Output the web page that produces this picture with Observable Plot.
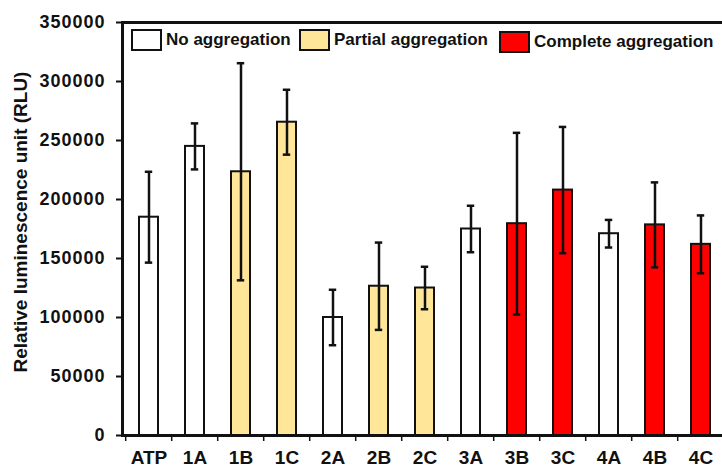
<!DOCTYPE html>
<html>
<head>
<meta charset="utf-8">
<script src="https://cdn.jsdelivr.net/npm/d3@7"></script>
<script src="https://cdn.jsdelivr.net/npm/@observablehq/plot@0.6"></script>
<style>
  html, body { margin: 0; padding: 0; overflow: hidden; background: #fff; }
  #wrap { position: relative; width: 722px; height: 467px; overflow: hidden; font-family: "Liberation Sans", Arial, sans-serif; font-weight: bold; }
  .lg { position: absolute; display: flex; align-items: center; font-size: 17px; color: #111; }
  .sw { width: 27px; height: 18px; border: 2px solid #111; margin-right: 4px; }
</style>
</head>
<body>
<div id="wrap"></div>
<script>
const categories = ["ATP","1A","1B","1C","2A","2B","2C","3A","3B","3C","4A","4B","4C"];
const means  = [185000, 245000, 223500, 265500, 100000, 126500, 125000, 175000, 179500, 208000, 171000, 178500, 162000];
const errors = [38500, 19500, 92000, 27500, 23500, 37000, 18000, 19700, 77000, 53500, 11700, 36000, 24500];
const groups = ["No aggregation","No aggregation","Partial aggregation","Partial aggregation","No aggregation","Partial aggregation","Partial aggregation","No aggregation","Complete aggregation","Complete aggregation","No aggregation","Complete aggregation","Complete aggregation"];
const groupNames = ["No aggregation","Partial aggregation","Complete aggregation"];
const groupColors = ["#ffffff","#ffe699","#ff0000"];
const yTicks = [0, 50000, 100000, 150000, 200000, 250000, 300000, 350000];
const yLabel = "Relative luminescence unit (RLU)";

const data = categories.map((c, i) => ({cat: c, mean: means[i], err: errors[i], group: groups[i]}));

const W = 728, H = 467, ML = 122, MR = 0;
const step = (W - ML - MR) / categories.length;
const pad = 0.58;
const capInset = (step * (1 - pad) - 8) / 2;

const chart = Plot.plot({
  width: W, height: H,
  marginLeft: ML, marginRight: MR, marginTop: 22, marginBottom: 32,
  style: {fontFamily: "'Liberation Sans', Arial, sans-serif", fontWeight: "bold", color: "#111", background: "white", overflow: "visible", maxWidth: "none"},
  x: {domain: categories, paddingInner: pad, paddingOuter: pad / 2, label: null},
  y: {domain: [0, 350000], label: null},
  color: {domain: groupNames, range: groupColors},
  marks: [
    Plot.barY(data, {x: "cat", y: "mean", fill: "group", stroke: "#111", strokeWidth: 2}),
    Plot.ruleX(data, {x: "cat", y1: d => d.mean - d.err, y2: d => d.mean + d.err, stroke: "#111", strokeWidth: 2.5}),
    Plot.tickY(data, {x: "cat", y: d => d.mean + d.err, stroke: "#111", strokeWidth: 2.5, inset: capInset}),
    Plot.tickY(data, {x: "cat", y: d => d.mean - d.err, stroke: "#111", strokeWidth: 2.5, inset: capInset}),
    Plot.frame({stroke: "#111", strokeWidth: 3}),
    Plot.axisY({ticks: yTicks, tickFormat: d3.format("d"), tickSize: 6, tickPadding: 11, fontSize: 18, fontWeight: "bold", label: null, stroke: "#111", strokeWidth: 2}),
    Plot.axisX({tickSize: 6, tickFormat: () => "", dx: -step / 2, label: null, stroke: "#111", strokeWidth: 1.5}),
    Plot.axisX({tickSize: 0, tickPadding: 15, fontSize: 19, fontWeight: "bold", label: null}),
    Plot.text([yLabel], {text: d => d, frameAnchor: "left", textAnchor: "middle", rotate: -90, dx: -102, dy: -7, fontSize: 19, fontWeight: "bold", fill: "#111"})
  ]
});
chart.querySelectorAll('g[aria-label="y-axis tick label"] text').forEach(t => t.setAttribute("letter-spacing", "1"));

const wrap = document.getElementById("wrap");
wrap.appendChild(chart);

const legendPos = [[131, 29], [299, 29], [499, 31]];
groupNames.forEach((g, i) => {
  const el = document.createElement("div");
  el.className = "lg";
  el.style.left = legendPos[i][0] + "px";
  el.style.top = legendPos[i][1] + "px";
  const sw = document.createElement("div");
  sw.className = "sw";
  sw.style.background = groupColors[i];
  const tx = document.createElement("span");
  tx.textContent = g;
  el.appendChild(sw);
  el.appendChild(tx);
  wrap.appendChild(el);
});
</script>
</body>
</html>
